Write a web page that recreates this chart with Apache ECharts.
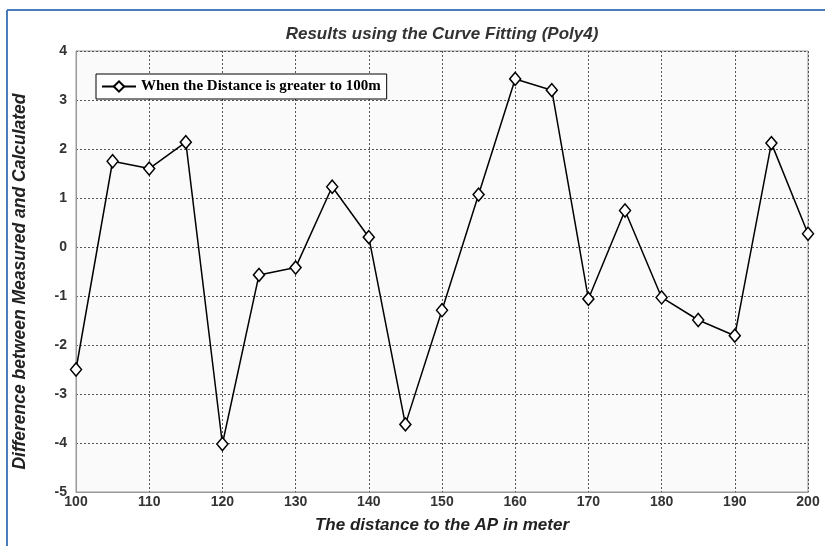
<!DOCTYPE html>
<html>
<head>
<meta charset="utf-8">
<script src="https://cdn.jsdelivr.net/npm/echarts@6/dist/echarts.min.js"></script>
<style>html,body{margin:0;padding:0;background:#fff;}#c{width:825px;height:546px;}</style>
</head>
<body>
<div id="c"></div>
<script>
var distances = [100,105,110,115,120,125,130,135,140,145,150,155,160,165,170,175,180,185,190,195,200];
var differences = [-2.5,1.75,1.6,2.14,-4.02,-0.57,-0.42,1.23,0.2,-3.62,-1.29,1.07,3.43,3.2,-1.06,0.745,-1.03,-1.49,-1.81,2.12,0.27];
var seriesName = 'When the Distance is greater to 100m';

var chart = echarts.init(document.getElementById('c'), null, {renderer:'canvas'});
var pts = distances.map(function(d,i){return [d, differences[i]];});
var tickFont = {color:'#333', fontWeight:'bold', fontFamily:'Liberation Sans Narrow, Arial Narrow, Liberation Sans, sans-serif', fontSize:14};
chart.setOption({
  backgroundColor:'#fff',
  animation:false,
  title:{
    text:'Results using the Curve Fitting (Poly4)',
    left:437, top:21, textAlign:'center',
    textStyle:{fontFamily:'Liberation Sans, Arial, sans-serif', fontStyle:'italic', fontWeight:'bold', fontSize:17, color:'#333'}
  },
  legend:{
    left:96, top:74,
    backgroundColor:'#fff', borderColor:'#000', borderWidth:1, padding:[5,6,5,5],
    itemWidth:34, itemHeight:13, itemGap:4,
    textStyle:{fontFamily:'Liberation Serif, Times New Roman, serif', fontWeight:'bold', fontSize:15, color:'#000'},
    data:[seriesName]
  },
  grid:{left:76, right:17, top:51, bottom:54, show:true, backgroundColor:'#fafafa', borderColor:'#999', borderWidth:1},
  xAxis:{
    type:'value', min:100, max:200, interval:10,
    name:'The distance to the AP in meter', nameLocation:'middle', nameGap:25,
    nameTextStyle:{fontFamily:'Liberation Sans, Arial, sans-serif', fontStyle:'italic', fontWeight:'bold', fontSize:17, color:'#222'},
    axisLine:{onZero:false, lineStyle:{color:'#999'}}, axisTick:{show:false},
    axisLabel:Object.assign({margin:3}, tickFont),
    splitLine:{show:true, lineStyle:{color:'#555', type:[2,2], width:1}}
  },
  yAxis:{
    type:'value', min:-5, max:4, interval:1,
    name:'Difference between Measured and Calculated', nameLocation:'middle', nameGap:47,
    nameTextStyle:{fontFamily:'Liberation Sans, Arial, sans-serif', fontStyle:'italic', fontWeight:'bold', fontSize:17.5, color:'#222', padding:[0,20,0,0]},
    axisLine:{onZero:false, lineStyle:{color:'#999'}}, axisTick:{show:false},
    axisLabel:Object.assign({margin:9}, tickFont),
    splitLine:{show:true, lineStyle:{color:'#555', type:[2,2], width:1}}
  },
  series:[{
    name:seriesName, type:'line', data:pts,
    symbol:'path://M0,6L5,0L10,6L5,12Z', symbolSize:[11,13], showSymbol:true,
    lineStyle:{color:'#000', width:1.5},
    itemStyle:{color:'#fff', borderColor:'#000', borderWidth:1.5}
  }],
  graphic:[
    {type:'line', shape:{x1:7, y1:10, x2:7, y2:546}, style:{stroke:'#4a7ebb', lineWidth:2}},
    {type:'line', shape:{x1:7, y1:10, x2:825, y2:10}, style:{stroke:'#4a7ebb', lineWidth:2}}
  ]
});
</script>
</body>
</html>
